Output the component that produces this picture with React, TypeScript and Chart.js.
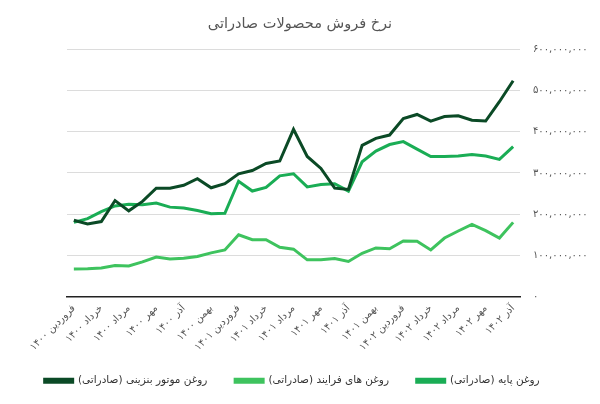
import { useEffect, useRef } from 'react';
import { Chart, registerables } from 'chart.js';

Chart.register(...registerables);

const months = [
  'فروردین ۱۴۰۰', 'اردیبهشت ۱۴۰۰', 'خرداد ۱۴۰۰', 'تیر ۱۴۰۰', 'مرداد ۱۴۰۰', 'شهریور ۱۴۰۰',
  'مهر ۱۴۰۰', 'آبان ۱۴۰۰', 'آذر ۱۴۰۰', 'دی ۱۴۰۰', 'بهمن ۱۴۰۰', 'اسفند ۱۴۰۰',
  'فروردین ۱۴۰۱', 'اردیبهشت ۱۴۰۱', 'خرداد ۱۴۰۱', 'تیر ۱۴۰۱', 'مرداد ۱۴۰۱', 'شهریور ۱۴۰۱',
  'مهر ۱۴۰۱', 'آبان ۱۴۰۱', 'آذر ۱۴۰۱', 'دی ۱۴۰۱', 'بهمن ۱۴۰۱', 'اسفند ۱۴۰۱',
  'فروردین ۱۴۰۲', 'اردیبهشت ۱۴۰۲', 'خرداد ۱۴۰۲', 'تیر ۱۴۰۲', 'مرداد ۱۴۰۲', 'شهریور ۱۴۰۲',
  'مهر ۱۴۰۲', 'آبان ۱۴۰۲', 'آذر ۱۴۰۲',
];

const motorOil = [
  185000000, 176000000, 182000000, 233000000, 208000000, 231000000, 263000000, 263000000,
  270000000, 286000000, 264000000, 274000000, 298000000, 306000000, 323000000, 329000000,
  406000000, 340000000, 311000000, 263000000, 260000000, 367000000, 384000000, 392000000,
  432000000, 442000000, 426000000, 437000000, 439000000, 428000000, 426000000, 473000000,
  524000000,
];

const processOil = [
  67000000, 67500000, 69000000, 75500000, 74000000, 84000000, 96000000, 91000000,
  93000000, 97000000, 106000000, 113000000, 150000000, 138000000, 138000000, 119500000,
  115000000, 89000000, 89000000, 92000000, 85000000, 105000000, 118000000, 116000000,
  135000000, 134000000, 113000000, 142000000, 159000000, 175000000, 160000000, 142000000,
  180000000,
];

const baseOil = [
  180000000, 189000000, 206000000, 220000000, 224000000, 223000000, 227000000, 217000000,
  215000000, 209000000, 201000000, 202000000, 280000000, 256000000, 265000000, 293000000,
  298000000, 266000000, 272000000, 274000000, 256000000, 327000000, 353000000, 369000000,
  376000000, 358000000, 340000000, 340000000, 341000000, 345000000, 341000000, 333000000,
  364000000,
];

const yTickLabels = [
  '۰', '۱۰۰,۰۰۰,۰۰۰', '۲۰۰,۰۰۰,۰۰۰', '۳۰۰,۰۰۰,۰۰۰', '۴۰۰,۰۰۰,۰۰۰', '۵۰۰,۰۰۰,۰۰۰', '۶۰۰,۰۰۰,۰۰۰',
];

const seriesNames = [
  'روغن موتور بنزینی (صادراتی)',
  'روغن های فرایند (صادراتی)',
  'روغن پایه (صادراتی)',
];

const seriesColors = ['#0b4a26', '#3ec35e', '#1aad55'];

const titleText = 'نرخ فروش محصولات صادراتی';

const FONT = "'DejaVu Sans', sans-serif";

export default function App() {
  const ref = useRef<HTMLCanvasElement | null>(null);

  useEffect(() => {
    document.body.style.margin = '0';
    const canvas = ref.current;
    if (!canvas) return;
    const series = [motorOil, processOil, baseOil];
    const chart = new Chart(canvas, {
      type: 'line',
      data: {
        labels: months,
        datasets: series.map((d, i) => ({
          label: seriesNames[i],
          data: d,
          borderColor: seriesColors[i],
          backgroundColor: seriesColors[i],
          borderWidth: 3,
          pointRadius: 0,
          tension: 0,
          yAxisID: 'y',
        })),
      },
      options: {
        responsive: false,
        animation: false,
        layout: { padding: { left: 0, right: 0, top: 0, bottom: 8 } },
        plugins: {
          title: {
            display: true,
            text: titleText,
            color: '#555',
            font: { family: FONT, size: 14.5, weight: 'normal' },
            padding: { top: 16, bottom: 16 },
          },
          legend: {
            position: 'bottom',
            labels: {
              color: '#333',
              font: { family: FONT, size: 10.5 },
              boxWidth: 28,
              boxHeight: 3,
              padding: 12,
              generateLabels: (c: any) =>
                Chart.defaults.plugins.legend.labels
                  .generateLabels(c)
                  .map((l: any) => ({ ...l, text: '\u2003\u2002' + l.text })),
            },
          },
          tooltip: { enabled: false },
        },
        scales: {
          x: {
            offset: true,
            grid: { display: false, drawTicks: false },
            border: { display: true, color: '#222', width: 1.5 },
            ticks: {
              autoSkip: false,
              minRotation: 45,
              maxRotation: 45,
              padding: 6,
              color: '#555',
              font: { family: FONT, size: 10 },
              callback: (_v: any, i: number) => (i % 2 === 0 ? months[i] : ''),
            },
            afterFit: (scale: any) => {
              scale.height = 67;
            },
          },
          yLeft: {
            position: 'left',
            min: 0,
            max: 600000000,
            grid: { display: false, drawTicks: false },
            border: { display: false },
            ticks: { display: false },
            afterFit: (scale: any) => {
              scale.width = 67;
            },
          },
          y: {
            position: 'right',
            min: 0,
            max: 600000000,
            grid: { color: '#dcdcdc', lineWidth: 1, drawTicks: false },
            border: { display: false },
            ticks: {
              stepSize: 100000000,
              padding: 13,
              color: '#555',
              font: { family: FONT, size: 10 },
              callback: (v: any) => yTickLabels[Math.round(Number(v) / 100000000)],
            },
            afterFit: (scale: any) => {
              scale.width = 80;
            },
          },
        },
      },
    });
    return () => chart.destroy();
  }, []);

  return (
    <div style={{ width: 600, height: 404 }}>
      <canvas ref={ref} width={600} height={404} dir="rtl" style={{ display: 'block' }} />
    </div>
  );
}
